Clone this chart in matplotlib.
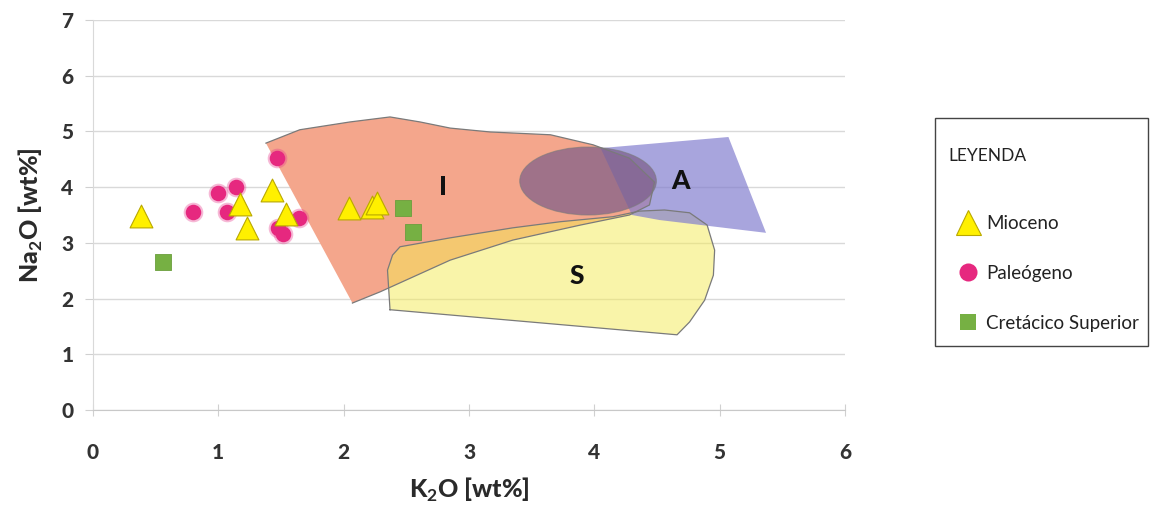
import matplotlib
matplotlib.use('Agg')
import matplotlib.pyplot as plt
from matplotlib.patches import Polygon, Ellipse, Rectangle
from matplotlib.lines import Line2D

# sample analyses, K2O vs Na2O (wt%)
mioceno_k2o = [0.38, 1.43, 1.17, 1.23, 1.54, 2.04, 2.23, 2.27]
mioceno_na2o = [3.48, 3.95, 3.70, 3.27, 3.52, 3.63, 3.64, 3.72]
paleogeno_k2o = [1.47, 1.14, 1.00, 0.80, 1.07, 1.64, 1.48, 1.52]
paleogeno_na2o = [4.52, 4.00, 3.90, 3.55, 3.55, 3.45, 3.27, 3.16]
cretacico_k2o = [0.56, 2.47, 2.55]
cretacico_na2o = [2.66, 3.63, 3.20]

# granite type fields
field_i_k2o = [1.38, 1.65, 2.05, 2.37, 2.61, 2.85, 3.17, 3.65, 3.99, 4.28, 4.48, 4.44,
               4.28, 3.89, 3.35, 2.85, 2.29, 2.07]
field_i_na2o = [4.79, 5.03, 5.17, 5.26, 5.17, 5.06, 4.99, 4.94, 4.76, 4.52, 4.09, 3.68,
                3.50, 3.32, 3.05, 2.69, 2.12, 1.92]
field_s_k2o = [2.37, 2.35, 2.39, 2.45, 2.85, 3.35, 3.73, 4.15, 4.36, 4.56, 4.76, 4.90,
               4.96, 4.95, 4.88, 4.76, 4.66]
field_s_na2o = [1.80, 2.51, 2.78, 2.93, 3.09, 3.27, 3.38, 3.47, 3.57, 3.59, 3.54, 3.32,
                2.87, 2.42, 1.97, 1.58, 1.35]
field_a_k2o = [4.05, 5.07, 5.37, 4.52, 4.30]
field_a_na2o = [4.70, 4.90, 3.18, 3.41, 3.50]
overlap_center = (3.95, 4.11)
overlap_size = (1.09, 1.22)

field_labels = ['I', 'A', 'S']
field_label_x = [2.79, 4.69, 3.86]
field_label_y = [4.00, 4.11, 2.41]

xticks = [0, 1, 2, 3, 4, 5, 6]
yticks = [0, 1, 2, 3, 4, 5, 6, 7]

plt.rcParams['font.family'] = ['Lato', 'DejaVu Sans']
plt.rcParams['font.weight'] = 'black'
plt.rcParams['axes.labelweight'] = 'black'
plt.rcParams['mathtext.fontset'] = 'custom'
plt.rcParams['mathtext.rm'] = 'Lato:bold'
plt.rcParams['mathtext.bf'] = 'Lato:bold'

fig = plt.figure(figsize=(11.52, 5.14), dpi=100)
ax = fig.add_axes([0.0807, 0.2023, 0.6528, 0.7588])

outline = '#7a7a7a'

ax.add_patch(Polygon(list(zip(field_i_k2o, field_i_na2o)), closed=True,
                     facecolor='#F4A68C', edgecolor='none', zorder=1))
ax.add_patch(Polygon(list(zip(field_s_k2o, field_s_na2o)), closed=True,
                     facecolor='#F5EB55', alpha=0.5, edgecolor='none', zorder=2))
ax.add_patch(Polygon(list(zip(field_a_k2o, field_a_na2o)), closed=True,
                     facecolor='#837FCF', alpha=0.7, edgecolor='none', zorder=3))
ax.add_patch(Ellipse(overlap_center, overlap_size[0], overlap_size[1],
                     facecolor='#7C5D89', alpha=0.7, edgecolor='none', zorder=4))
ax.add_patch(Ellipse(overlap_center, overlap_size[0], overlap_size[1],
                     facecolor='none', edgecolor=outline, lw=0.8, alpha=0.6, zorder=5))

# field outlines (I has no line on its left side)
ax.plot(field_i_k2o, field_i_na2o, color=outline, lw=0.9, zorder=5)
ax.plot(field_s_k2o + field_s_k2o[:1], field_s_na2o + field_s_na2o[:1],
        color=outline, lw=0.9, zorder=5)

for lab, lx, ly in zip(field_labels, field_label_x, field_label_y):
    ax.text(lx, ly, lab, fontsize=19, color='#111111',
            ha='center', va='center', zorder=6)

# soft halo under the pink dots
ax.scatter(paleogeno_k2o, paleogeno_na2o, s=200, color='#E8388C', alpha=0.35,
           linewidths=0, zorder=6)
ax.scatter(paleogeno_k2o, paleogeno_na2o, s=125, color='#E6287F', linewidths=0,
           zorder=7)
ax.scatter(mioceno_k2o, mioceno_na2o, s=270, marker='^', color='#FFF000',
           edgecolors='#B9A800', linewidths=0.8, zorder=8)
ax.scatter(cretacico_k2o, cretacico_na2o, s=130, marker='s', color='#76B043',
           edgecolors='#6A9E3C', linewidths=0.6, zorder=8)

ax.set_xlim(0, 6)
ax.set_ylim(0, 7)
ax.set_xticks(xticks)
ax.set_yticks(yticks)
ax.grid(axis='y', color='#D9D9D9', lw=1)
ax.set_axisbelow(True)
for side in ['top', 'right']:
    ax.spines[side].set_visible(False)
ax.spines['left'].set_color('#D9D9D9')
ax.spines['bottom'].set_color('#C8C8C8')
ax.tick_params(axis='y', length=6, color='#D0D0D0', pad=8,
               labelsize=15, labelcolor='#333333')
ax.tick_params(axis='x', direction='inout', length=8, color='#D0D0D0', pad=20,
               labelsize=15, labelcolor='#333333')

ax.set_xlabel(r'K$_\mathbf{2}$O [wt%]', fontsize=18, color='#2a2a2a', labelpad=10)
ax.set_ylabel(r'Na$_\mathbf{2}$O [wt%]', fontsize=18, color='#2a2a2a', labelpad=12)

# legend box on the right
fig.patches.append(Rectangle((935 / 1152, 1 - 346 / 514), 213 / 1152, 228 / 514,
                             transform=fig.transFigure, facecolor='white',
                             edgecolor='#444444', lw=1.0))
fig.text(948 / 1152, 1 - 156 / 514, 'LEYENDA', fontsize=12.5, fontweight='normal',
         color='#222222', va='center', ha='left')
handles = [
    Line2D([], [], marker='^', ls='none', ms=18, color='#FFF000',
           markeredgecolor='#B9A800', markeredgewidth=0.8),
    Line2D([], [], marker='o', ls='none', ms=13, color='#E6287F', markeredgewidth=0),
    Line2D([], [], marker='s', ls='none', ms=11, color='#76B043', markeredgewidth=0),
]
fig.legend(handles, ['Mioceno', 'Paleógeno', 'Cretácico Superior'],
           loc='upper left', bbox_to_anchor=(938 / 1152, 1 - 198 / 514),
           frameon=False, prop={'size': 13.5, 'weight': 'normal'},
           labelspacing=1.75, handletextpad=0.25, handlelength=1.4,
           labelcolor='#222222')

fig.savefig('out.png', dpi=100)
